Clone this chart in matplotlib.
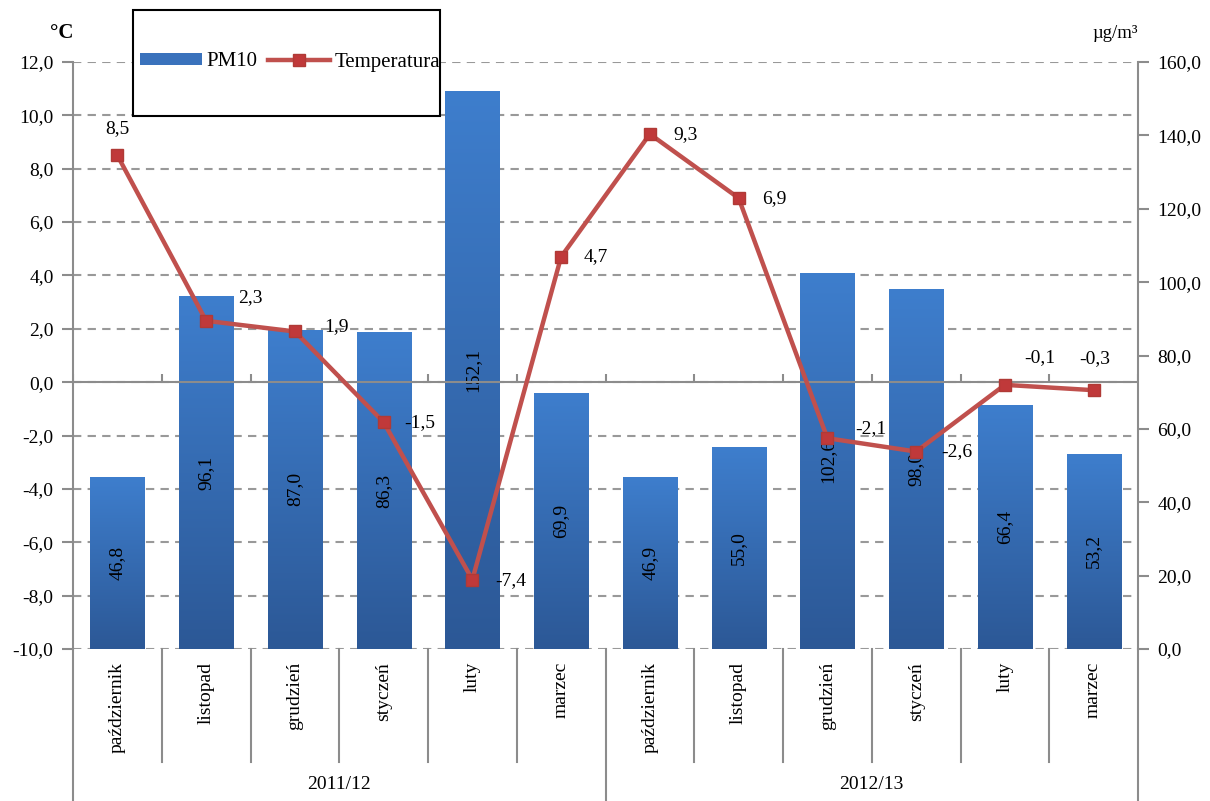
import numpy as np
import matplotlib
matplotlib.use("Agg")
import matplotlib.pyplot as plt
from matplotlib.patches import Rectangle, Patch
from matplotlib.lines import Line2D
from matplotlib.ticker import FuncFormatter

plt.rcParams['font.family'] = ['Liberation Serif', 'DejaVu Serif']

# data
months = ["październik", "listopad", "grudzień", "styczeń", "luty", "marzec"] * 2
seasons = ["2011/12", "2012/13"]
pm10 = [46.8, 96.1, 87.0, 86.3, 152.1, 69.9, 46.9, 55.0, 102.6, 98.0, 66.4, 53.2]
temp = [8.5, 2.3, 1.9, -1.5, -7.4, 4.7, 9.3, 6.9, -2.1, -2.6, -0.1, -0.3]

# temperature label offsets in pixels (style only)
t_off = [(0, 27), (44, 23), (42, 5), (36, 0), (38, -1), (35, 0),
         (36, -1), (36, -1), (44, 10), (41, 0), (35, 27), (1, 32)]

grey = "#8c8c8c"
red = "#c0504d"
fs = 14

fig = plt.figure(figsize=(12.1, 8.01), dpi=100)
ax = fig.add_axes([73 / 1210, 1 - 649 / 801, (1138 - 73) / 1210, (649 - 62) / 801])
axt = ax.twinx()

x = np.arange(len(pm10))

# gradient bars
bars = ax.bar(x, pm10, width=0.61, color="none", zorder=2)
grad = np.linspace(0, 1, 256).reshape(-1, 1)
cmap = matplotlib.colors.LinearSegmentedColormap.from_list("b", ["#2c5896", "#3e7ecd"])
for b in bars:
    im = ax.imshow(grad, cmap=cmap, aspect="auto", origin="lower",
                   extent=[b.get_x(), b.get_x() + b.get_width(), 0, b.get_height()],
                   zorder=2)
    im.set_clip_path(b)
ax.set_aspect("auto")
ax.set_xlim(-0.5, len(pm10) - 0.5)
ax.set_ylim(0, 160)
axt.set_ylim(-10, 12)

for xi, v in zip(x, pm10):
    ax.text(xi, v / 2, f"{v:.1f}".replace(".", ","), rotation=90, ha="center", va="center",
            fontsize=fs, zorder=3)

# grid at temperature ticks, drawn behind bars
t_ticks = np.arange(-10, 12.1, 2)
grid_pos = (t_ticks + 10) / 22 * 160
for g in grid_pos:
    ax.axhline(g, color="#999999", lw=1.5, ls=(0, (4, 3)), zorder=1)

# temperature line
axt.plot(x, temp, color=red, lw=3.2, marker="s", markersize=8.5,
         markerfacecolor="#c0393a", markeredgecolor="#b03a36", zorder=5)
for xi, v, (dx, dy) in zip(x, temp, t_off):
    axt.annotate(f"{v:.1f}".replace(".", ","), (xi, v), xytext=(dx, dy),
                 textcoords="offset pixels", ha="center", va="center", fontsize=fs)

# zero line with small ticks
axt.axhline(0, color=grey, lw=1.5, zorder=4)
bounds = np.arange(-0.5, len(pm10), 1.0)
axt.plot(bounds, np.zeros_like(bounds), ls="none", marker=2, markersize=6,
         color=grey, mew=1.5, zorder=4)

# axes styling
fmt = FuncFormatter(lambda v, p: f"{v:.1f}".replace(".", ","))
ax.yaxis.tick_right()
ax.set_yticks(np.arange(0, 161, 20))
ax.yaxis.set_major_formatter(fmt)
axt.yaxis.tick_left()
axt.set_yticks(t_ticks)
axt.yaxis.set_major_formatter(fmt)
for a in (ax, axt):
    for s in a.spines.values():
        s.set_visible(False)
    a.tick_params(axis="y", length=8, width=1.5, color=grey, labelsize=fs, pad=6)
    a.set_xticks([])
ax.spines["right"].set_visible(True)
ax.spines["right"].set_color(grey)
ax.spines["right"].set_linewidth(1.5)
axt.spines["left"].set_visible(True)
axt.spines["left"].set_color(grey)
axt.spines["left"].set_linewidth(1.5)

# category labels and separators
tr = ax.get_xaxis_transform()
for b in bounds:
    idx = int(b + 0.5)
    long = idx % 6 == 0
    ax.plot([b, b], [0, -0.257 if long else -0.1925], transform=tr, color=grey,
            lw=1.5, clip_on=False)
for xi, m in zip(x, months):
    ax.text(xi, -0.022, m, rotation=90, ha="center", va="top", transform=tr, fontsize=fs)
for i, s in enumerate(seasons):
    ax.text(2.5 + 6 * i, -0.23, s, ha="center", va="center", transform=tr, fontsize=fs)

# units
fig.text(62 / 1210, 1 - 33 / 801, "°C", fontsize=fs + 1, fontweight="bold",
         ha="center", va="center")
fig.text(1115 / 1210, 1 - 33 / 801, "µg/m³", fontsize=fs - 0.5, ha="center", va="center")

# legend box
fig.patches.append(Rectangle((133 / 1210, 1 - 116 / 801), (440 - 133) / 1210, (116 - 10) / 801,
                             transform=fig.transFigure, fill=True, facecolor="white",
                             edgecolor="black", lw=1.5, zorder=10))
handles = [Patch(facecolor="#3a72bc", edgecolor="none"),
           Line2D([], [], color=red, lw=3.2, marker="s", markersize=8.5,
                  markerfacecolor="#c0393a", markeredgecolor="#b03a36")]
leg = fig.legend(handles, ["PM10", "Temperatura"], loc="center",
                 bbox_to_anchor=(290 / 1210, 1 - 62 / 801), ncol=2, frameon=False,
                 fontsize=fs + 1, handlelength=3.0, handleheight=0.45, columnspacing=0.5,
                 handletextpad=0.2)
leg.set_zorder(11)

fig.savefig("out.png", dpi=100)
